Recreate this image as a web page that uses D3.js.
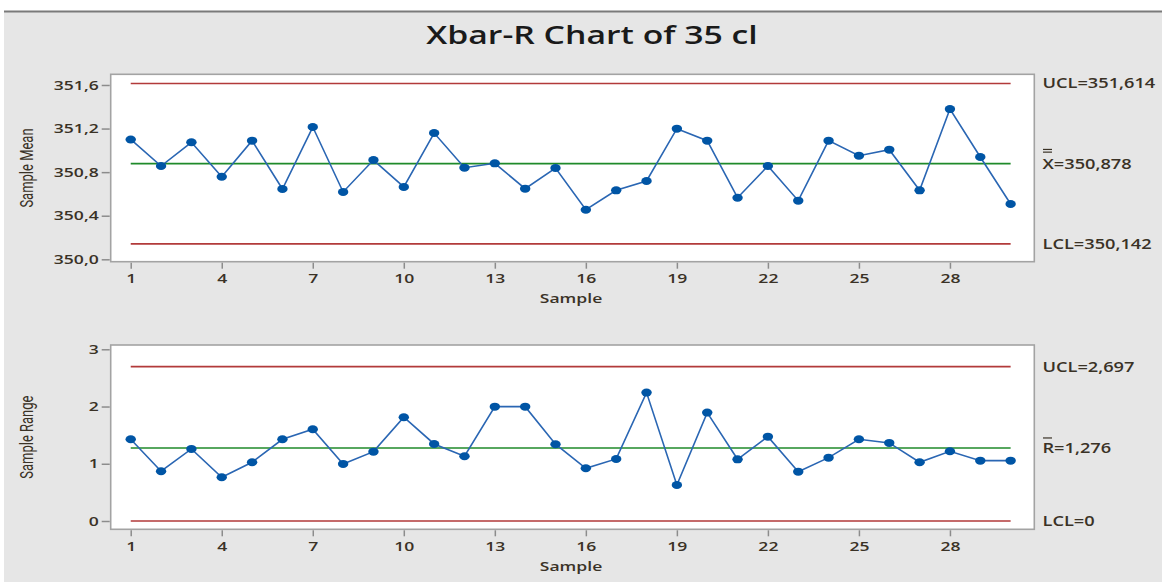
<!DOCTYPE html>
<html>
<head>
<meta charset="utf-8">
<script src="https://cdn.jsdelivr.net/npm/d3@7"></script>
<style>
  body { margin: 0; background: #fff; }
  text { font-family: "Open Sans", "Noto Sans", sans-serif; }
  .tick text { font-size: 13px; font-weight: 600; fill: #3a3226; }
  .axis-title { font-size: 13px; font-weight: 600; fill: #3a3226; }
  .ylab { font-family: "Liberation Sans Narrow", "Roboto", sans-serif; font-size: 13px; fill: #3a3226; }
  .limit-label { font-size: 13.5px; font-weight: 600; fill: #3a3226; }
</style>
</head>
<body>
<svg id="chart" width="1162" height="582"></svg>
<script>
// sample numbers
const samples = d3.range(1, 31)

// subgroup means
const means = [351.10, 350.856, 351.074, 350.758, 351.089, 350.645, 351.214, 350.618, 350.911, 350.664,
               351.159, 350.841, 350.881, 350.648, 350.838, 350.455, 350.633, 350.719, 351.199, 351.089,
               350.565, 350.856, 350.538, 351.089, 350.951, 351.006, 350.633, 351.379, 350.939, 350.508]

// subgroup ranges
const ranges = [1.428, 0.869, 1.259, 0.764, 1.026, 1.428, 1.603, 0.997, 1.212, 1.813,
                1.346, 1.131, 1.998, 1.998, 1.341, 0.921, 1.084, 2.243, 0.629, 1.894,
                1.078, 1.474, 0.862, 1.107, 1.428, 1.364, 1.026, 1.218, 1.054, 1.054]

const meanLimits = {ucl: 351.614, center: 350.878, lcl: 350.142}
const rangeLimits = {ucl: 2.697, center: 1.276, lcl: 0}

const xTicks = [1, 4, 7, 10, 13, 16, 19, 22, 25, 28]
const meanTicks = [350.0, 350.4, 350.8, 351.2, 351.6]
const rangeTicks = [0, 1, 2, 3]

const locale = d3.formatLocale({decimal: ",", thousands: ".", grouping: [3], currency: ["", ""]})
const fmt1 = locale.format(".1f")
const fmt3 = locale.format(".3f")

// the screenshot is stretched sideways, so text is widened to match
const SX = 1.35
function stretch(sel) {
    sel.each(function () {
        const t = d3.select(this)
        const tx = +t.attr("x") || 0, ty = +t.attr("y") || 0
        t.attr("x", 0).attr("y", 0).attr("transform", `translate(${tx},${ty}) scale(${SX},1)`)
    })
}

const svg = d3.select("#chart")

// window background
svg.append("rect").attr("x", 4).attr("y", 12).attr("width", 1158).attr("height", 570).attr("fill", "#e6e6e6")
svg.append("line").attr("x1", 4).attr("x2", 1162).attr("y1", 11.5).attr("y2", 11.5)
    .attr("stroke", "#7a7a7a").attr("stroke-width", 2)

svg.append("text")
    .attr("x", 592).attr("y", 43.5)
    .attr("text-anchor", "middle")
    .style("font-size", "25px").style("font-weight", 600).style("fill", "#1a1a1a")
    .text("Xbar-R Chart of 35 cl")
    .call(stretch)

const left = 110.7, right = 1034.3
const x = d3.scaleLinear().domain([0.34, 30.78]).range([left, right])

function panel(cfg) {
    const y = d3.scaleLinear().domain(cfg.domain).range([cfg.bottom, cfg.top])
    const g = svg.append("g")

    g.append("rect")
        .attr("x", left).attr("y", cfg.top)
        .attr("width", right - left).attr("height", cfg.bottom - cfg.top)
        .attr("fill", "#fff").attr("stroke", "#a3a3a3").attr("stroke-width", 1.6)

    const yAxis = g.append("g")
        .attr("transform", `translate(${left - 1},0)`)
        .call(d3.axisLeft(y).tickValues(cfg.ticks).tickSize(8).tickPadding(3).tickFormat(cfg.tickFormat))
    const xAxis = g.append("g")
        .attr("transform", `translate(0,${cfg.bottom + 1})`)
        .call(d3.axisBottom(x).tickValues(xTicks).tickSize(6).tickPadding(5))
    for (let a of [yAxis, xAxis]) {
        a.select(".domain").remove()
        a.selectAll(".tick line").attr("stroke", "#8c8c8c").attr("stroke-width", 1.5)
        a.selectAll(".tick text").call(stretch)
    }

    // control limits
    const limits = [
        {v: cfg.limits.ucl, color: "#b23a3a"},
        {v: cfg.limits.lcl, color: "#b23a3a"},
        {v: cfg.limits.center, color: "#1f8a2a"}
    ]
    g.selectAll(".limit").data(limits).enter().append("line")
        .attr("x1", x(1)).attr("x2", x(30))
        .attr("y1", d => y(d.v)).attr("y2", d => y(d.v))
        .attr("stroke", d => d.color).attr("stroke-width", 1.6)

    const line = d3.line().x((d, i) => x(samples[i])).y(d => y(d))
    g.append("path").datum(cfg.values)
        .attr("d", line).attr("fill", "none")
        .attr("stroke", "#2a66b3").attr("stroke-width", 1.6)
    g.selectAll(".pt").data(cfg.values).enter().append("ellipse")
        .attr("cx", (d, i) => x(samples[i])).attr("cy", d => y(d))
        .attr("rx", 5.2).attr("ry", 4)
        .attr("fill", "#0055a5")

    // axis titles
    g.append("text").attr("class", "ylab")
        .attr("transform", `translate(33,${(cfg.top + cfg.bottom) / 2}) scale(${SX},1) rotate(-90)`)
        .attr("text-anchor", "middle")
        .text(cfg.ylabel)
    g.append("text").attr("class", "axis-title")
        .attr("x", 571).attr("y", cfg.bottom + 41.5)
        .attr("text-anchor", "middle")
        .text("Sample")
        .call(stretch)

    // limit labels on the right
    const lx = 1042.5
    g.append("text").attr("class", "limit-label")
        .attr("x", lx).attr("y", y(cfg.limits.ucl) + 5)
        .text("UCL=" + fmt3(cfg.limits.ucl))
        .call(stretch)
    g.append("text").attr("class", "limit-label")
        .attr("x", lx).attr("y", y(cfg.limits.lcl) + 5)
        .text("LCL=" + (cfg.limits.lcl === 0 ? "0" : fmt3(cfg.limits.lcl)))
        .call(stretch)
    g.append("text").attr("class", "limit-label")
        .attr("x", lx).attr("y", y(cfg.limits.center) + 5.5)
        .text(cfg.centerSymbol + "=" + fmt3(cfg.limits.center))
        .call(stretch)
    // bars over the centre symbol
    const cy = y(cfg.limits.center)
    cfg.barOffsets.forEach(off => {
        g.append("line")
            .attr("x1", lx + 0.5).attr("x2", lx + 9.5)
            .attr("y1", cy - off).attr("y2", cy - off)
            .attr("stroke", "#3a3226").attr("stroke-width", 1.2)
    })
}

panel({
    top: 74.3, bottom: 261.7, domain: [349.978, 351.698],
    ticks: meanTicks, tickFormat: fmt1, values: means, limits: meanLimits,
    ylabel: "Sample Mean", centerSymbol: "X", barOffsets: [11.5, 14.2]
})

panel({
    top: 345, bottom: 529.3, domain: [-0.145, 3.075],
    ticks: rangeTicks, tickFormat: d3.format("d"), values: ranges, limits: rangeLimits,
    ylabel: "Sample Range", centerSymbol: "R", barOffsets: [10]
})
</script>
</body>
</html>
